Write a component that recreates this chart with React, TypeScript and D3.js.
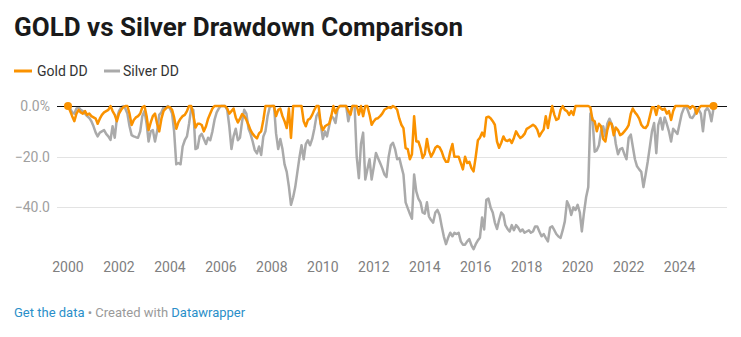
import React from "react";
import * as d3 from "d3";

const START_YEAR = 2000;
const START_MONTH = 0;

const yearTicks = ["2000", "2002", "2004", "2006", "2008", "2010", "2012", "2014", "2016", "2018", "2020", "2022", "2024"];
const yTicks = [0, -20, -40];
const yTickLabels = ["0.0%", "\u221220.0", "\u221240.0"];

// Monthly drawdown (%), Jan 2000 – May 2025
const goldDD = [
  0, -2, -4, -6, -3, -1.5, -2.5, -3, -2, -3.5, -3, -4,
  -4.5, -5, -7, -5, -3.5, -2.5, -2, -1.5, 0, -2, -3.5, -6,
  -3, -1.5, -0.5, 0, 0, -3, -7.5, -5.5, -4.5, -4, -3, -0.5,
  0, -4, -9.5, -6.5, -4, -3, -7, -10, -5, -2, -1, -0.3,
  -0.5, -1.5, -4.5, -9, -6.5, -5, -4, -3.5, -2, 0, 0, -3.5,
  -8.5, -7, -7, -7.5, -10, -8, -5, -3, -1, 0, 0, 0,
  0, 0, 0, -1, -3, -2, -1, -4.5, -6.5, -5, -3.2, -4,
  -5.5, -7.5, -9.5, -11, -12, -12.8, -10.8, -10, -5.5, 0, 0, 0,
  0, 0, -4, -1.5, -1, -4, -6, -8.7, -1, -12.6, 0, 0,
  0, 0, 0, -6, -8, -5.5, -5, -3.5, -1.5, 0, 0, -7,
  -9.5, -8, -7.5, -7, -4, 0, -2.8, -1, 0, 0, 0, 0,
  -2, -3.4, 0, 0, 0, -3.4, 0, -4, 0, 0, -3.4, -7.4,
  -6, -5, -4.8, -4, -3, -1.5, -1, -0.5, -0.8, 0, -0.5, -1.5,
  -5, -7.5, -8.7, -16.6, -17, -21, -19, -4, -14, -14, -16.6, -20.5,
  -19, -13, -17.5, -20, -18.5, -16.5, -15.8, -16.3, -18, -20.5, -22, -22,
  -18, -15, -20, -20, -20, -22.5, -25, -20, -22.5, -22, -24.5, -25.8,
  -20, -13.5, -12.5, -10.5, -12, -4.5, -4.2, -4.8, -6, -7.4, -14, -16.5,
  -14.5, -12, -13.5, -13.8, -13.2, -14.6, -12.6, -10, -11.5, -12.6, -12, -11,
  -9, -8.5, -8, -7.4, -8, -9.3, -12, -10.5, -9.3, -4, -8.7, -4,
  0, -3.5, -5.5, -5, -1.5, 0, -1.5, -2, -3.5, -2, -3.5, 0,
  0, 0, 0, 0, 0, 0, -0.5, -5.5, -6, -10, -7, -8,
  -13, -14, -9.5, -6.5, -7, -11.5, -8.5, -9.5, -11.5, -11, -10, -9,
  -7.5, -3, -1, -2.5, -3.5, -5, -7.4, -8.5, -8.7, -7.5, -4, -0.5,
  -0.5, -3.5, 0, -0.8, -1.5, -1, -3, -2, -5.5, -2, 0, 0,
  0, 0, 0, 0, 0, -1, 0, -0.5, -3, -1, 0, 0,
  0, 0, 0, 0, 0,
];

const silverDD = [
  0, -1, -2.5, -3, -1, -0.5, -1.5, -2, -3, -4, -4.7, -6,
  -8, -10.5, -12, -10.5, -10, -9.5, -11, -12, -13.4, -8, -12.5, -5,
  -2, -0.5, 0, -1, -3, -8, -11.5, -12, -12.3, -12.5, -10, -4,
  -2, -7, -14, -10, -9.5, -14, -10, -3.5, -2.5, -0.5, -1, 0,
  -1, -3, -10, -23, -22.5, -23, -16, -13.5, -12, -7, -1, -1.5,
  -17, -16.5, -12, -11, -13, -15, -12.5, -13.5, -10, -5.5, -2.5, -1,
  0, 0, 0, -1.5, -8, -17, -12, -9, -13.5, -12.5, -6, -1.5,
  -3, -9, -11, -14, -17.4, -18.7, -16, -19.3, -12, -10, -4, -0.5,
  0, 0, -10.8, -17, -13, -17, -23, -26, -31.8, -39, -36, -32,
  -26, -20, -15.5, -21, -15, -13.5, -15.5, -13, -9, -4, -2.5, -7,
  -13, -10, -12, -8, -4, -4.7, -6.7, -1, 0, 0, 0, 0,
  -6, -2, 0, 0, -20, -28.5, -15, -10.5, -29, -25, -21, -29,
  -24, -18.5, -20.5, -22.5, -24.5, -27, -28, -20, -15.5, -14.5, -17, -21,
  -20.5, -24, -27, -38, -40.3, -42.5, -44.5, -27, -33.7, -36.5, -38, -42,
  -42.5, -38, -43.5, -45, -46, -42, -41, -43, -47.5, -51.5, -54.5, -52,
  -50, -51.4, -50, -50.5, -50, -53.4, -54.7, -54.7, -53.4, -52.5, -55, -56.5,
  -54.5, -53, -52, -44, -48.7, -37, -36.5, -40, -42, -46, -48.5, -45,
  -42, -43, -47, -48.5, -49.5, -47, -49, -47, -48, -49.5, -48.7, -50,
  -49.5, -49, -50, -49.5, -47.5, -47.5, -49.5, -51.4, -50.5, -52, -53.4, -48,
  -47.5, -49, -50.5, -51.5, -52, -49, -45.5, -37.6, -39.5, -43, -40, -41,
  -39, -42, -49.5, -42, -36, -32, -3, -5, -18, -17.5, -15.5, -10,
  -8, -12, -7, -5, -7, -9, -15, -19, -17, -16.6, -19, -21,
  -12.6, -11.3, -16, -21, -23.8, -25, -26, -32, -27, -22, -16, -10,
  -6.7, -18.6, -7.5, -4.7, -9.3, -4.5, -7, -10, -14, -9, -10, -11,
  -7, -3, -1, 0, -2, -4.5, -4.7, -3.5, -1, -1.4, -3, -10,
  -2, -0.8, -2, -6, -1,
];

const GOLD = "#fa9200";
const SILVER = "#aaaaaa";

type Pt = { date: Date; v: number };

function toSeries(vals: number[]): Pt[] {
  return vals.map((v, i) => ({ date: new Date(START_YEAR, START_MONTH + i, 1), v }));
}

export default function App() {
  const W = 741;
  const H = 337;
  const gold = toSeries(goldDD);
  const silver = toSeries(silverDD);
  const first = gold[0].date;
  const last = gold[gold.length - 1].date;

  const x = d3.scaleTime().domain([first, last]).range([68, 713.5]);
  const y = d3.scaleLinear().domain([-60, 0]).range([258.1, 106]);

  const line = d3
    .line<Pt>()
    .x((d) => x(d.date))
    .y((d) => y(d.v));

  const gridX0 = 57;
  const gridX1 = 727;
  const font = "Roboto, 'Noto Sans', sans-serif";
  const crisp = (v: number) => Math.round(v) + 0.5;

  const lastGold = gold[gold.length - 1];

  return (
    <svg
      width={W}
      height={H}
      style={{ position: "absolute", left: 0, top: 0, background: "#fff" }}
      fontFamily={font}
    >
      <rect x={0} y={0} width={W} height={H} fill="#fff" />
      <text x={14} y={36} fontSize={26} fontWeight={700} fill="#1a1a1a">
        GOLD vs Silver Drawdown Comparison
      </text>

      {/* legend */}
      <line x1={14} x2={32} y1={71} y2={71} stroke={GOLD} strokeWidth={3} />
      <text x={37} y={76} fontSize={14} fill="#333">Gold DD</text>
      <line x1={104} x2={120} y1={71} y2={71} stroke={SILVER} strokeWidth={3} />
      <text x={123} y={76} fontSize={14} fill="#333">Silver DD</text>

      {/* grid + y labels */}
      {yTicks.map((t, i) => (
        <g key={t}>
          {t !== 0 && (
            <line x1={gridX0} x2={gridX1} y1={crisp(y(t))} y2={crisp(y(t))} stroke="#e3e3e3" strokeWidth={1} />
          )}
          <text
            x={50}
            y={y(t)}
            dy="0.35em"
            textAnchor="end"
            fontSize={14}
            fill="#a0a0a0"
          >
            {yTickLabels[i]}
          </text>
        </g>
      ))}

      {/* x labels */}
      {yearTicks.map((yr) => (
        <text
          key={yr}
          x={x(new Date(+yr, 0, 1))}
          y={272}
          textAnchor="middle"
          fontSize={14}
          fill="#808080"
        >
          {yr}
        </text>
      ))}

      {/* lines */}
      <path d={line(silver) ?? ""} fill="none" stroke={SILVER} strokeWidth={2.5} strokeLinejoin="round" />
      <line x1={gridX0} x2={gridX1} y1={crisp(y(0))} y2={crisp(y(0))} stroke="#111" strokeWidth={1} />
      <path d={line(gold) ?? ""} fill="none" stroke={GOLD} strokeWidth={2.5} strokeLinejoin="round" />
      <circle cx={x(gold[0].date)} cy={y(gold[0].v)} r={4} fill={GOLD} />
      <circle cx={x(lastGold.date)} cy={y(lastGold.v)} r={4} fill={GOLD} />

      {/* footer */}
      <text x={14} y={317} fontSize={13}>
        <tspan fill="#2a8fc9">Get the data</tspan>
        <tspan fill="#9a9a9a"> • Created with </tspan>
        <tspan fill="#2a8fc9">Datawrapper</tspan>
      </text>
    </svg>
  );
}
